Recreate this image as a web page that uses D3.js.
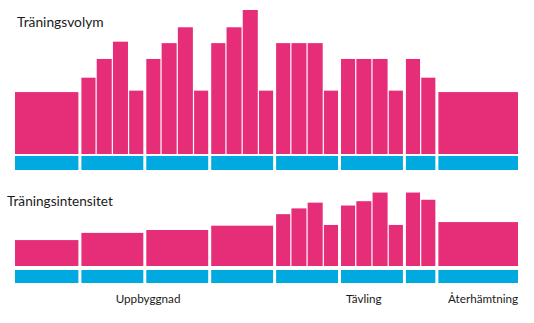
<!DOCTYPE html>
<html>
<head>
<meta charset="utf-8">
<script src="https://cdn.jsdelivr.net/npm/d3@7"></script>
<style>
  html, body { margin: 0; padding: 0; background: #fff; }
  svg { display: block; }
  text { font-family: Lato, "Open Sans", sans-serif; fill: #1a1a1a; }
</style>
</head>
<body>
<svg id="chart" width="534" height="323"></svg>
<script>
// ---- data (weeks as the time unit) ----
const totalWeeks = 31;
// mesocycles shown as the blue strips (length in weeks)
const blockSpans = [4, 4, 4, 4, 4, 4, 2, 5];
// Träningsvolym: each bar's length in weeks and its value
const volumeSpans  = [4, 1, 1, 1, 1, 1, 1, 1, 1, 1, 1, 1, 1, 1, 1, 1, 1, 1, 1, 1, 1, 1, 1, 5];
const volumeValues = [43, 53, 66, 78, 44, 66, 77, 88, 44, 77, 88, 100, 44, 77, 77, 77, 44, 66, 66, 66, 44, 66, 53, 43];
// Träningsintensitet
const intensitySpans  = [4, 4, 4, 4, 1, 1, 1, 1, 1, 1, 1, 1, 1, 1, 5];
const intensityValues = [18, 23, 25, 28, 36, 40, 44, 28.5, 42, 45, 51, 28.5, 51, 46, 30.5];
// phase labels and where (in weeks) they sit
const phaseLabels = ["Uppbyggnad", "Tävling", "Återhämtning"];
const phaseAt     = [8.2, 21.5, 28.85];
const titles = ["Träningsvolym", "Träningsintensitet"];

// ---- layout ----
const PINK = "#e62e78", BLUE = "#00a9e0";
const svg = d3.select("#chart");
const x = d3.scaleLinear().domain([0, totalWeeks]).range([15, 518]);

// week boundaries that separate blocks
const blockEdges = new Set(d3.cumsum(blockSpans).map(v => +v));
blockEdges.add(0);
function gapAt(w) {
  if (w === 0 || w === totalWeeks) return 0;
  return blockEdges.has(w) ? 1.5 : 0.6;
}
function spansToRects(spans, values) {
  const ends = Array.from(d3.cumsum(spans));
  return spans.map((s, i) => {
    const end = ends[i], start = end - s;
    return { start, end, value: values ? values[i] : null };
  });
}

function panel(spans, values, baseline, stripTop, stripBottom) {
  const y = d3.scaleLinear().domain([0, 100]).range([baseline, baseline - 144]);
  const g = svg.append("g");
  g.selectAll("rect.bar")
    .data(spansToRects(spans, values))
    .join("rect")
    .attr("class", "bar")
    .attr("x", d => x(d.start) + gapAt(d.start))
    .attr("width", d => x(d.end) - gapAt(d.end) - x(d.start) - gapAt(d.start))
    .attr("y", d => y(d.value))
    .attr("height", d => y(0) - y(d.value))
    .attr("fill", PINK);
  g.selectAll("rect.block")
    .data(spansToRects(blockSpans))
    .join("rect")
    .attr("class", "block")
    .attr("x", d => x(d.start) + gapAt(d.start))
    .attr("width", d => x(d.end) - gapAt(d.end) - x(d.start) - gapAt(d.start))
    .attr("y", stripTop)
    .attr("height", stripBottom - stripTop)
    .attr("fill", BLUE);
}

panel(volumeSpans, volumeValues, 154, 156, 170);
panel(intensitySpans, intensityValues, 266, 270, 283);

svg.append("text").attr("x", 17).attr("y", 27).attr("font-size", 13.8).text(titles[0]);
svg.append("text").attr("x", 7).attr("y", 205.5).attr("font-size", 13.6).text(titles[1]);

svg.selectAll("text.phase")
  .data(phaseLabels)
  .join("text")
  .attr("class", "phase")
  .attr("x", (d, i) => x(phaseAt[i]))
  .attr("y", 303)
  .attr("text-anchor", "middle")
  .attr("font-size", 11.7)
  .text(d => d);
</script>
</body>
</html>
